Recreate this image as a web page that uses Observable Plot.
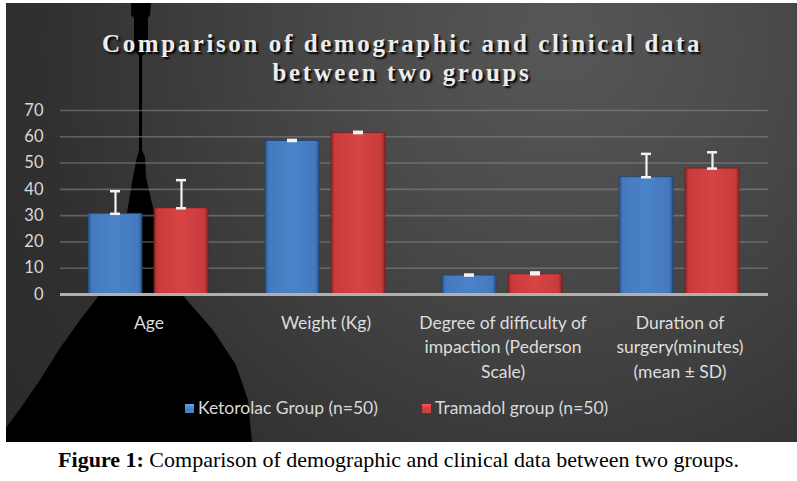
<!DOCTYPE html>
<html>
<head>
<meta charset="utf-8">
<script src="https://cdn.jsdelivr.net/npm/d3@7"></script>
<script src="https://cdn.jsdelivr.net/npm/@observablehq/plot@0.6"></script>
<style>
  html, body { margin: 0; padding: 0; background: #fff; }
  #wrap { position: relative; width: 797px; height: 481px; overflow: hidden; background: #fff; }
  #panel { position: absolute; left: 6px; top: 3px; width: 791px; height: 439px;
    background: radial-gradient(circle at 554px 40px, #575757 0px, #4c4c4c 180px, #3c3c3c 380px, #303030 520px, #2a2a2a 700px); }
  #spike { position: absolute; left: 0; top: 0; width: 797px; height: 481px; background: #000;
    clip-path: polygon(131px 3px,151px 3px,150px 15px,148px 18px,148px 50px,142px 56px,142px 150px,145px 157px,146px 177px,150px 195px,153px 207px,160px 240px,172px 270px,185px 298px,213px 330px,236px 365px,248px 400px,252px 442px,6px 442px,6px 428px,22px 406px,40px 380px,60px 348px,80px 320px,97px 298px,110px 270px,122px 240px,128px 207px,133px 177px,137px 157px,139px 150px,139px 56px,134px 50px,134px 18px,131px 15px); }
  #title { position: absolute; left: 0; top: 29px; width: 804px; text-align: center;
    font: bold 25px "Liberation Serif", "Times New Roman", serif; letter-spacing: 2.6px; line-height: 29px;
    color: #ececec; text-shadow: 2px 2px 2px #000; }
  #plot { position: absolute; left: 0; top: 95px; }
  #legend { position: absolute; top: 397px; left: 0; width: 797px; height: 24px;
    font: 17.5px Lato, sans-serif; color: #d9d9d9; }
  .item { position: absolute; top: 0; white-space: nowrap; }
  .sw { display: inline-block; width: 9px; height: 9px; margin-right: 4px; vertical-align: 1px; }
  #caption { position: absolute; top: 447px; left: 0; width: 797px; text-align: center;
    font: 22px "Liberation Serif", "Times New Roman", serif; color: #000; }
</style>
</head>
<body>
<div id="wrap">
  <div id="panel"></div>
  <div id="spike"></div>
  <div id="title">Comparison of demographic and clinical data<br>between two groups</div>
  <div id="plot"></div>
  <div id="legend"></div>
  <div id="caption"><b>Figure 1:</b> Comparison of demographic and clinical data between two groups.</div>
</div>
<script>
// ---- data ----
const categories = ["Age", "Weight (Kg)", "Degree of difficulty of impaction (Pederson Scale)", "Duration of surgery(minutes) (mean ± SD)"];
const categoryLabels = ["Age", "Weight (Kg)", "Degree of difficulty of\nimpaction (Pederson\nScale)", "Duration of\nsurgery(minutes)\n(mean ± SD)"];
const groups = ["Ketorolac Group (n=50)", "Tramadol group (n=50)"];
const ketorolacMean = [30.7, 58.4, 7.2, 44.6];
const ketorolacSD = [8.6, 0.4, 0.4, 8.9];
const tramadolMean = [32.8, 61.4, 7.7, 47.9];
const tramadolSD = [10.7, 0.5, 0.7, 6.2];
const yTicks = [0, 10, 20, 30, 40, 50, 60, 70];
const colors = ["url(#gBlue)", "url(#gRed)"];
const swatchColors = ["#4a80c4", "#d23f3f"];

const rows = [];
categories.forEach((c, i) => {
  rows.push({cat: c, group: groups[0], mean: ketorolacMean[i], sd: ketorolacSD[i]});
  rows.push({cat: c, group: groups[1], mean: tramadolMean[i], sd: tramadolSD[i]});
});
const labelRows = categories.map((c, i) => ({cat: c, label: categoryLabels[i]}));

const chart = Plot.plot({
  width: 797,
  height: 290,
  marginLeft: 58,
  marginRight: 28,
  marginTop: 15,
  marginBottom: 91,
  style: {background: "transparent", overflow: "visible"},
  fx: {domain: categories, padding: 0, axis: null},
  x: {domain: groups, paddingInner: 0.179, paddingOuter: 0.416, axis: null},
  y: {domain: [0, 70], ticks: yTicks, tickSize: 0, tickPadding: 18, label: null},
  color: {domain: groups, range: colors},
  marks: [
    Plot.gridY(yTicks.slice(1), {stroke: "#8a8a8a", strokeOpacity: 0.55, strokeWidth: 1.6}),
    Plot.axisY({ticks: yTicks, tickSize: 0, tickPadding: 17, fontSize: 16.5, fontFamily: "Lato, sans-serif", fill: "#d9d9d9", label: null}),
    Plot.barY(rows, {fx: "cat", x: "group", y: "mean", fill: "group", stroke: d => d.group === groups[0] ? "#1f3f6a" : "#6e1a1a", strokeWidth: 1, strokeOpacity: 0.7}),
    Plot.ruleY([0], {stroke: "#b0b0b0", strokeWidth: 3}),
    Plot.ruleX(rows, {fx: "cat", x: "group", y1: "mean", y2: d => d.mean + d.sd, stroke: "#f2f2f2", strokeWidth: 2.2}),
    Plot.tickY(rows, {fx: "cat", x: "group", y: d => d.mean + d.sd, stroke: "#f2f2f2", strokeWidth: 2.5, insetLeft: 22, insetRight: 22}),
    Plot.tickY(rows, {fx: "cat", x: "group", y: "mean", stroke: "#f2f2f2", strokeWidth: 2.5, insetLeft: 22, insetRight: 22}),
    Plot.text(labelRows, {fx: "cat", text: "label", frameAnchor: "bottom", lineAnchor: "top", dy: 17, lineHeight: 1.4, fontSize: 17.5, fontFamily: "Lato, sans-serif", fill: "#dedede"})
  ]
});

// gradient definitions for the bevelled bar look
const svg = d3.select(chart);
const defs = svg.insert("defs", ":first-child");
function grad(id, edge, mid, light) {
  const g = defs.append("linearGradient").attr("id", id).attr("x1", 0).attr("x2", 1).attr("y1", 0).attr("y2", 0);
  g.append("stop").attr("offset", "0%").attr("stop-color", edge);
  g.append("stop").attr("offset", "7%").attr("stop-color", mid);
  g.append("stop").attr("offset", "50%").attr("stop-color", light);
  g.append("stop").attr("offset", "93%").attr("stop-color", mid);
  g.append("stop").attr("offset", "100%").attr("stop-color", edge);
}
grad("gBlue", "#2a558f", "#4479bd", "#4b83c8");
grad("gRed", "#8f2626", "#c93b3b", "#d64444");
document.getElementById("plot").appendChild(chart);

// legend
const legend = document.getElementById("legend");
const legendX = [185, 422];
groups.forEach((g, i) => {
  const it = document.createElement("div");
  it.className = "item";
  it.style.left = legendX[i] + "px";
  const sw = document.createElement("span");
  sw.className = "sw";
  sw.style.background = `linear-gradient(180deg, ${d3.color(swatchColors[i]).brighter(0.8)} 0%, ${swatchColors[i]} 45%)`;
  it.appendChild(sw);
  it.appendChild(document.createTextNode(g));
  legend.appendChild(it);
});
</script>
</body>
</html>
